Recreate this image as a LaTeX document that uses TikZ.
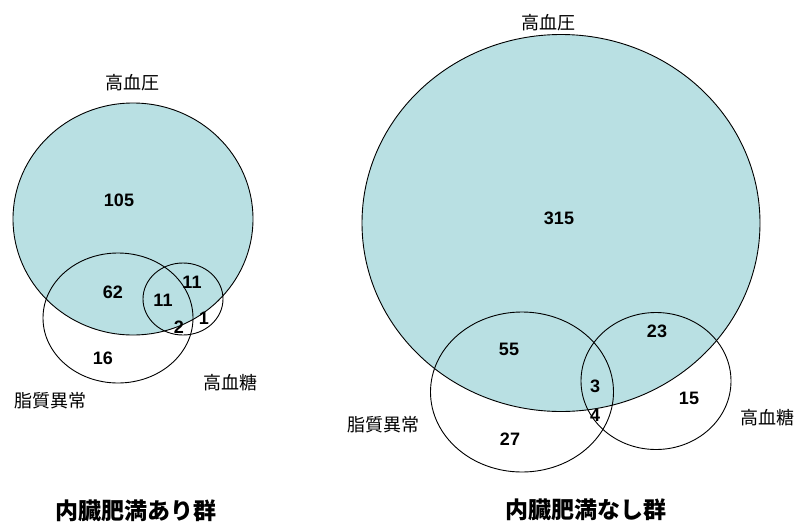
\documentclass[tikz,border=0pt]{standalone}
\usepackage{fontspec}
\setmainfont{Liberation Sans}
\newfontfamily\jpfont{Noto Sans CJK JP}
\usetikzlibrary{shapes.geometric}
\definecolor{hbp}{RGB}{185,224,227}
\tikzset{
  setc/.style={ellipse, draw=black, line width=0.9pt, inner sep=0pt},
  num/.style={font=\fontsize{18}{18}\selectfont\bfseries, inner sep=0pt},
  lab/.style={font=\jpfont\fontsize{18}{18}\selectfont, inner sep=0pt},
  ttl/.style={font=\jpfont\fontsize{23}{23}\selectfont\bfseries, inner sep=0pt}
}
\begin{document}
\begin{tikzpicture}[x=1pt,y=-1pt]
\useasboundingbox (0,0) rectangle (795,525);
% left group
\node[setc, fill=hbp, minimum width=240pt, minimum height=232pt] (LH) at (133,219) {};
\node[setc, minimum width=150pt, minimum height=130pt] (LL) at (118,318) {};
\node[setc, minimum width=80pt, minimum height=72pt] (LG) at (183,299) {};
\node[lab] (LHt) at (132,83) {高血圧};
\node[lab] (LLt) at (50,401) {脂質異常};
\node[lab] (LGt) at (230,383) {高血糖};
\node[num] (l1) at (119,200) {105};
\node[num] (l2) at (113,292) {62};
\node[num] (l3) at (163,300) {11};
\node[num] (l4) at (192,282) {11};
\node[num] (l5) at (179,327) {2};
\node[num] (l6) at (204,318) {1};
\node[num] (l7) at (103,358) {16};
\node[ttl] (LT) at (136,511) {内臓肥満あり群};
% right group
\node[setc, fill=hbp, minimum width=398pt, minimum height=377pt] (RH) at (561,223) {};
\node[setc, minimum width=183pt, minimum height=160pt] (RL) at (522,392) {};
\node[setc, minimum width=150pt, minimum height=137pt] (RG) at (656,381) {};
\node[lab] (RHt) at (548,23) {高血圧};
\node[lab] (RLt) at (383,425) {脂質異常};
\node[lab] (RGt) at (767,418) {高血糖};
\node[num] (r1) at (559,218) {315};
\node[num] (r2) at (509,349) {55};
\node[num] (r3) at (657,331) {23};
\node[num] (r4) at (595,386) {3};
\node[num] (r5) at (595,415) {4};
\node[num] (r6) at (689,398) {15};
\node[num] (r7) at (510,439) {27};
\node[ttl] (RT) at (586,510) {内臓肥満なし群};
\end{tikzpicture}
\end{document}
